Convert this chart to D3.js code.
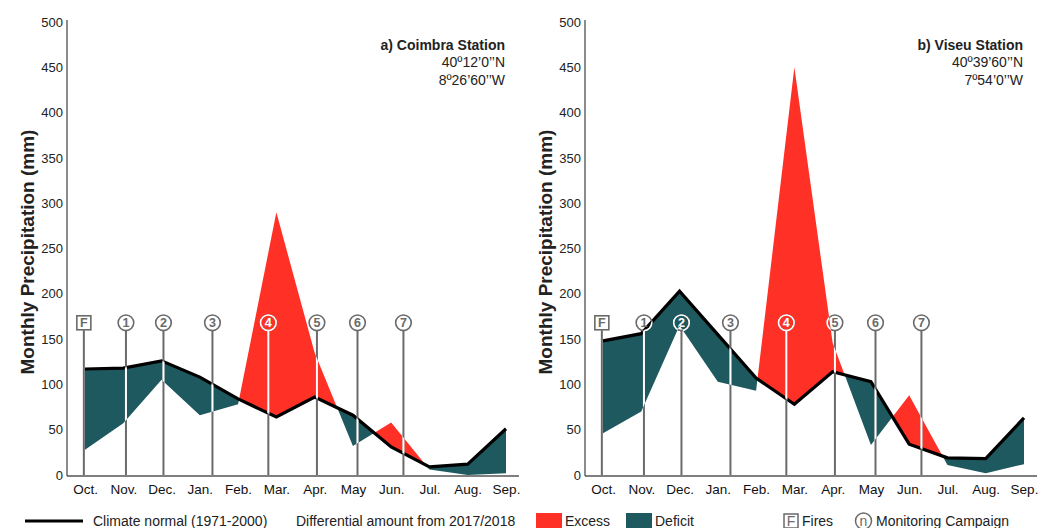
<!DOCTYPE html>
<html>
<head>
<meta charset="utf-8">
<script src="https://cdn.jsdelivr.net/npm/d3@7"></script>
<style>
  body { margin: 0; background: #fff; }
  text { font-family: "Liberation Sans", Arial, sans-serif; }
</style>
</head>
<body>
<div id="chart"></div>
<script>
// months of the hydrological year
var months = ["Oct.", "Nov.", "Dec.", "Jan.", "Feb.", "Mar.", "Apr.", "May", "Jun.", "Jul.", "Aug.", "Sep."];
var yTicks = [0, 50, 100, 150, 200, 250, 300, 350, 400, 450, 500];

// Coimbra station (mm)
var coimbraNormal = [117, 118, 126, 108, 84, 64, 86, 66, 31, 9, 12, 51];
var coimbraActual = [28, 57, 105, 66, 78, 290, 135, 32, 58, 6, 0, 2];
// Viseu station (mm)
var viseuNormal = [148, 156, 203, 155, 107, 78, 114, 103, 34, 19, 18, 63];
var viseuActual = [46, 70, 165, 103, 93, 450, 146, 33, 88, 11, 2, 12];

// fires + monitoring campaigns, position in months from Oct.
var markerLabels = ["F", "1", "2", "3", "4", "5", "6", "7"];
var markerMonths = [-0.03, 1.07, 2.05, 3.33, 4.79, 6.06, 7.12, 8.32];
var markerLevel = 168;

var stations = [
  {id: "a", title: "a) Coimbra Station", lat: "40º12’0’’N", lon: "8º26’60’’W", normal: coimbraNormal, actual: coimbraActual, axisX: 67},
  {id: "b", title: "b) Viseu Station", lat: "40º39’60’’N", lon: "7º54’0’’W", normal: viseuNormal, actual: viseuActual, axisX: 585}
];

var width = 1038, height = 528;
var RED = "#ff3126", TEAL = "#1d595e", GREY = "#6a6a6a";

var svg = d3.select("#chart").append("svg")
  .attr("width", width)
  .attr("height", height);
var defs = svg.append("defs");

var y = d3.scaleLinear().domain([0, 500]).range([475, 22]);

stations.forEach(function(st) {
  var x = d3.scaleLinear().domain([0, 11]).range([st.axisX + 18, st.axisX + 439]);
  var idx = d3.range(months.length);

  // difference chart: clip regions above / below the normal line
  var between = d3.area()
    .x(function(i) { return x(i); })
    .y0(function(i) { return y(st.normal[i]); })
    .y1(function(i) { return y(st.actual[i]); });
  var above = d3.area()
    .x(function(i) { return x(i); })
    .y0(function(i) { return y(st.normal[i]); })
    .y1(0);
  var below = d3.area()
    .x(function(i) { return x(i); })
    .y0(function(i) { return y(st.normal[i]); })
    .y1(height);

  defs.append("clipPath").attr("id", "above-" + st.id)
    .append("path").attr("d", above(idx));
  defs.append("clipPath").attr("id", "below-" + st.id)
    .append("path").attr("d", below(idx));
  defs.append("clipPath").attr("id", "between-" + st.id)
    .append("path").attr("d", between(idx));

  var g = svg.append("g");

  g.append("path")
    .attr("d", between(idx))
    .attr("fill", RED)
    .attr("clip-path", "url(#above-" + st.id + ")");
  g.append("path")
    .attr("d", between(idx))
    .attr("fill", TEAL)
    .attr("clip-path", "url(#below-" + st.id + ")");

  // axes
  var yAxis = g.append("g")
    .attr("transform", "translate(" + st.axisX + ",0)")
    .call(d3.axisLeft(y).tickValues(yTicks).tickSize(0).tickPadding(4));
  yAxis.select(".domain").remove();
  yAxis.selectAll("text").attr("font-size", 13).attr("fill", "#222")
    .style("font-family", "'Liberation Sans', Arial, sans-serif");

  var xAxis = g.append("g")
    .attr("transform", "translate(0," + (y(0) + 1) + ")")
    .call(d3.axisBottom(x).tickValues(idx).tickFormat(function(i) { return months[i]; })
      .tickSize(0).tickPadding(8));
  xAxis.select(".domain").remove();
  xAxis.selectAll("text").attr("font-size", 13.5).attr("fill", "#111")
    .style("font-family", "'Liberation Sans', Arial, sans-serif");

  g.append("line")
    .attr("x1", st.axisX).attr("x2", st.axisX)
    .attr("y1", 20).attr("y2", y(0) + 1)
    .attr("stroke", "#666").attr("stroke-width", 1.5);
  g.append("line")
    .attr("x1", st.axisX).attr("x2", st.axisX + 452)
    .attr("y1", y(0) + 1).attr("y2", y(0) + 1)
    .attr("stroke", "#555").attr("stroke-width", 1.5);

  // climate normal line
  g.append("path")
    .datum(idx)
    .attr("d", d3.line().x(function(i) { return x(i); }).y(function(i) { return y(st.normal[i]); }))
    .attr("fill", "none")
    .attr("stroke", "#000")
    .attr("stroke-width", 3.2)
    .attr("stroke-linejoin", "miter");

  // markers: grey everywhere, white where they cross the filled areas
  drawMarkers(g.append("g"), x, GREY);
  drawMarkers(g.append("g").attr("clip-path", "url(#between-" + st.id + ")"), x, "#fff");

  // y label
  g.append("text")
    .attr("transform", "translate(" + (st.axisX - 33) + "," + 252 + ") rotate(-90)")
    .attr("text-anchor", "middle")
    .attr("font-size", 19)
    .attr("font-weight", "bold")
    .attr("fill", "#222")
    .text("Monthly Precipitation (mm)");

  // station label
  var lx = st.axisX + 438;
  g.append("text").attr("x", lx).attr("y", 50).attr("text-anchor", "end")
    .attr("font-size", 14).attr("font-weight", "bold").attr("fill", "#222").text(st.title);
  g.append("text").attr("x", lx).attr("y", 67).attr("text-anchor", "end")
    .attr("font-size", 14).attr("fill", "#222").text(st.lat);
  g.append("text").attr("x", lx).attr("y", 85).attr("text-anchor", "end")
    .attr("font-size", 14).attr("fill", "#222").text(st.lon);
});

function drawMarkers(mg, x, color) {
  var cy = y(markerLevel);
  markerLabels.forEach(function(lab, k) {
    var cx = x(markerMonths[k]);
    mg.append("line")
      .attr("x1", cx).attr("x2", cx)
      .attr("y1", cy + 7.5).attr("y2", y(0))
      .attr("stroke", color).attr("stroke-width", 2);
    if (lab === "F") {
      mg.append("rect")
        .attr("x", cx - 7).attr("y", cy - 7)
        .attr("width", 14).attr("height", 14)
        .attr("fill", "none").attr("stroke", color).attr("stroke-width", 1.6);
    } else {
      mg.append("circle")
        .attr("cx", cx).attr("cy", cy).attr("r", 7.8)
        .attr("fill", "none").attr("stroke", color).attr("stroke-width", 1.6);
    }
    mg.append("text")
      .attr("x", cx).attr("y", cy + 4.5)
      .attr("text-anchor", "middle")
      .attr("font-size", 12.5)
      .attr("font-weight", "bold")
      .attr("fill", color)
      .text(lab);
  });
}

// legend
var leg = svg.append("g").attr("font-size", 14).attr("fill", "#222");
leg.append("line").attr("x1", 25).attr("x2", 83).attr("y1", 521).attr("y2", 521)
  .attr("stroke", "#000").attr("stroke-width", 3);
leg.append("text").attr("x", 93).attr("y", 526).text("Climate normal (1971-2000)");
leg.append("text").attr("x", 296).attr("y", 526).text("Differential amount from 2017/2018");
leg.append("rect").attr("x", 536).attr("y", 513).attr("width", 26).attr("height", 16).attr("fill", RED);
leg.append("text").attr("x", 565).attr("y", 526).text("Excess");
leg.append("rect").attr("x", 626).attr("y", 513).attr("width", 26).attr("height", 16).attr("fill", TEAL);
leg.append("text").attr("x", 655).attr("y", 526).text("Deficit");
leg.append("rect").attr("x", 784).attr("y", 514).attr("width", 14).attr("height", 14)
  .attr("fill", "none").attr("stroke", GREY).attr("stroke-width", 1.5);
leg.append("text").attr("x", 791).attr("y", 526).attr("text-anchor", "middle").attr("fill", GREY).text("F");
leg.append("text").attr("x", 802).attr("y", 526).text("Fires");
leg.append("circle").attr("cx", 863.5).attr("cy", 521).attr("r", 8)
  .attr("fill", "none").attr("stroke", GREY).attr("stroke-width", 1.5);
leg.append("text").attr("x", 863.5).attr("y", 526).attr("text-anchor", "middle").attr("fill", GREY).text("n");
leg.append("text").attr("x", 876).attr("y", 526).text("Monitoring Campaign");
</script>
</body>
</html>
